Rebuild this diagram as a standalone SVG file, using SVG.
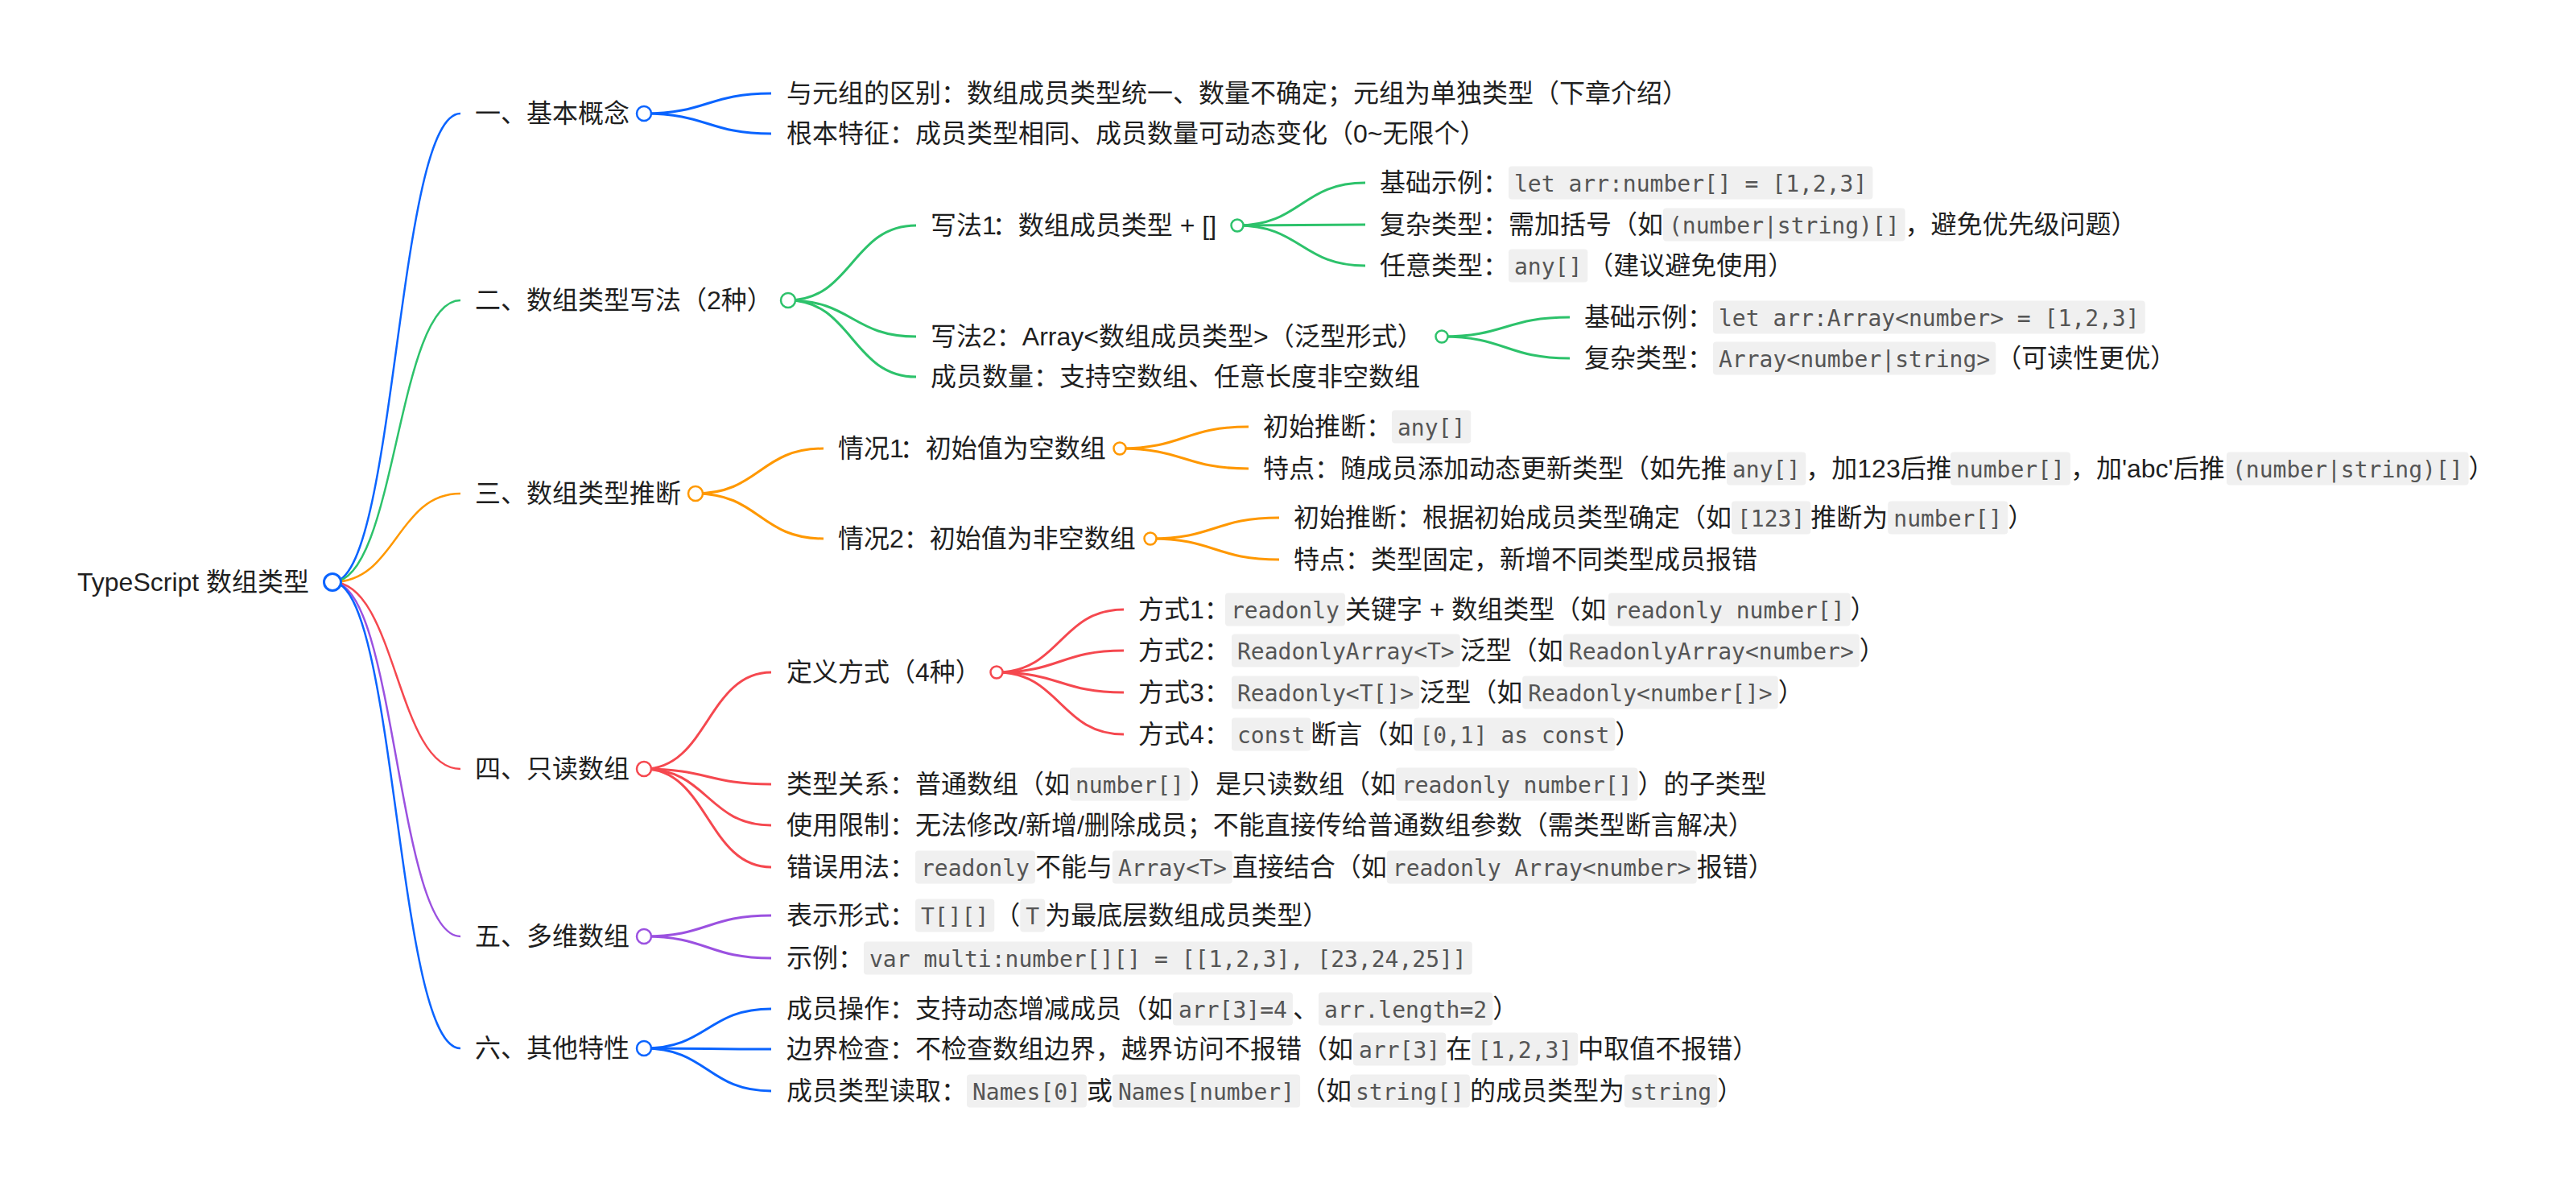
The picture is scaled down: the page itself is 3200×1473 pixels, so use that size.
<svg xmlns="http://www.w3.org/2000/svg" width="3200" height="1473" viewBox="0 0 3200 1473">
<style>
.t{font-family:"Liberation Sans","Noto Sans CJK SC",sans-serif;font-size:32px;fill:#1f1f1f}
.c{font-family:"DejaVu Sans Mono",monospace;font-size:28px;fill:#555}
.cb{fill:#f0f0f0}
.lk{fill:none;stroke-width:3}
.lr{stroke-width:2.5}
.b{stroke:#0a64ff}
.g{stroke:#2dc26b}
.o{stroke:#ff9800}
.r{stroke:#f5484f}
.p{stroke:#9b51e0}
.nd{fill:#fff;stroke-width:2.5}
</style>
<rect width="3200" height="1473" fill="#fff"/>
<g id="connectors">
<path class="lk lr b" d="M413,723C492.5,723 492.5,141 572,141"/>
<path class="lk lr g" d="M413,723C492.5,723 492.5,373 572,373"/>
<path class="lk lr o" d="M413,723C492.5,723 492.5,613 572,613"/>
<path class="lk lr r" d="M413,723C492.5,723 492.5,955 572,955"/>
<path class="lk lr p" d="M413,723C492.5,723 492.5,1163 572,1163"/>
<path class="lk lr b" d="M413,723C492.5,723 492.5,1302 572,1302"/>
<path class="lk b" d="M800,141C879,141 879,116 958,116"/>
<path class="lk b" d="M800,141C879,141 879,166 958,166"/>
<path class="lk g" d="M979,373C1058.5,373 1058.5,280 1138,280"/>
<path class="lk g" d="M979,373C1058.5,373 1058.5,418 1138,418"/>
<path class="lk g" d="M979,373C1058.5,373 1058.5,468 1138,468"/>
<path class="lk o" d="M864,613C943.5,613 943.5,557 1023,557"/>
<path class="lk o" d="M864,613C943.5,613 943.5,669 1023,669"/>
<path class="lk r" d="M800,955C879,955 879,835 958,835"/>
<path class="lk r" d="M800,955C879,955 879,974 958,974"/>
<path class="lk r" d="M800,955C879,955 879,1025 958,1025"/>
<path class="lk r" d="M800,955C879,955 879,1077 958,1077"/>
<path class="lk p" d="M800,1163C879,1163 879,1137 958,1137"/>
<path class="lk p" d="M800,1163C879,1163 879,1190 958,1190"/>
<path class="lk b" d="M800,1302C879,1302 879,1253 958,1253"/>
<path class="lk b" d="M800,1302C879,1302 879,1303 958,1303"/>
<path class="lk b" d="M800,1302C879,1302 879,1355 958,1355"/>
<path class="lk g" d="M1537,280C1616.5,280 1616.5,227 1696,227"/>
<path class="lk g" d="M1537,280C1616.5,280 1616.5,279 1696,279"/>
<path class="lk g" d="M1537,280C1616.5,280 1616.5,330 1696,330"/>
<path class="lk g" d="M1791,418C1870.5,418 1870.5,394 1950,394"/>
<path class="lk g" d="M1791,418C1870.5,418 1870.5,445 1950,445"/>
<path class="lk o" d="M1391,557C1471,557 1471,530 1551,530"/>
<path class="lk o" d="M1391,557C1471,557 1471,582 1551,582"/>
<path class="lk o" d="M1429,669C1509,669 1509,643 1589,643"/>
<path class="lk o" d="M1429,669C1509,669 1509,695 1589,695"/>
<path class="lk r" d="M1238,835C1317,835 1317,757 1396,757"/>
<path class="lk r" d="M1238,835C1317,835 1317,808 1396,808"/>
<path class="lk r" d="M1238,835C1317,835 1317,860 1396,860"/>
<path class="lk r" d="M1238,835C1317,835 1317,912 1396,912"/>
</g>

<g id="root"><text class="t" x="96" y="734">TypeScript 数组类型</text><circle class="nd b" cx="413" cy="723" r="10.5" style="stroke-width:3"/></g>

<g id="n1"><text class="t" x="590" y="152">一、基本概念</text><circle class="nd b" cx="800" cy="141" r="9"/></g>
<g id="n1-1"><text class="t" x="977" y="127">与元组的区别：数组成员类型统一、数量不确定；元组为单独类型（下章介绍）</text></g>
<g id="n1-2"><text class="t" x="977" y="177">根本特征：成员类型相同、成员数量可动态变化（0~无限个）</text></g>

<g id="n2"><text class="t" x="590" y="384">二、数组类型写法（2种）</text><circle class="nd g" cx="979" cy="373" r="9"/></g>
<g id="n2-1"><text class="t" x="1156" y="291">写法1<tspan dx="-5">：数组成员类型 + []</tspan></text><circle class="nd g" cx="1537" cy="280" r="7.5"/></g>
<g id="n2-1-1"><text class="t" x="1714" y="238">基础示例：</text><rect class="cb" x="1874" y="206.5" width="452.4" height="41" rx="4"/><text class="c" x="1881" y="238">let arr:number[] = [1,2,3]</text></g>
<g id="n2-1-2"><text class="t" x="1714" y="290">复杂类型：需加括号（如</text><rect class="cb" x="2066" y="258.5" width="300.6" height="41" rx="4"/><text class="c" x="2073" y="290">(number|string)[]</text><text class="t" x="2366.6" y="290">，避免优先级问题）</text></g>
<g id="n2-1-3"><text class="t" x="1714" y="341">任意类型：</text><rect class="cb" x="1874" y="309.5" width="98.3" height="41" rx="4"/><text class="c" x="1881" y="341">any[]</text><text class="t" x="1972.3" y="341">（建议避免使用）</text></g>
<g id="n2-2"><text class="t" x="1156" y="429">写法2：Array&lt;数组成员类型&gt;（泛型形式）</text><circle class="nd g" cx="1791" cy="418" r="7.5"/></g>
<g id="n2-2-1"><text class="t" x="1968" y="405">基础示例：</text><rect class="cb" x="2128" y="373.5" width="536.7" height="41" rx="4"/><text class="c" x="2135" y="405">let arr:Array&lt;number&gt; = [1,2,3]</text></g>
<g id="n2-2-2"><text class="t" x="1968" y="456">复杂类型：</text><rect class="cb" x="2128" y="424.5" width="351.2" height="41" rx="4"/><text class="c" x="2135" y="456">Array&lt;number|string&gt;</text><text class="t" x="2479.2" y="456">（可读性更优）</text></g>
<g id="n2-3"><text class="t" x="1156" y="479">成员数量：支持空数组、任意长度非空数组</text></g>

<g id="n3"><text class="t" x="590" y="624">三、数组类型推断</text><circle class="nd o" cx="864" cy="613" r="9"/></g>
<g id="n3-1"><text class="t" x="1041" y="568">情况1<tspan dx="-5">：初始值为空数组</tspan></text><circle class="nd o" cx="1391" cy="557" r="7.5"/></g>
<g id="n3-1-1"><text class="t" x="1569" y="541">初始推断：</text><rect class="cb" x="1729" y="509.5" width="98.3" height="41" rx="4"/><text class="c" x="1736" y="541">any[]</text></g>
<g id="n3-1-2"><text class="t" x="1569" y="593">特点：随成员添加动态更新类型（如先推</text><rect class="cb" x="2145" y="561.5" width="98.3" height="41" rx="4"/><text class="c" x="2152" y="593">any[]</text><text class="t" x="2243.3" y="593">，加123后推</text><rect class="cb" x="2423" y="561.5" width="148.9" height="41" rx="4"/><text class="c" x="2430" y="593">number[]</text><text class="t" x="2571.9" y="593">，加'abc'后推</text><rect class="cb" x="2766" y="561.5" width="300.6" height="41" rx="4"/><text class="c" x="2773" y="593">(number|string)[]</text><text class="t" x="3066.6" y="593">）</text></g>
<g id="n3-2"><text class="t" x="1041" y="680">情况2：初始值为非空数组</text><circle class="nd o" cx="1429" cy="669" r="7.5"/></g>
<g id="n3-2-1"><text class="t" x="1607" y="654">初始推断：根据初始成员类型确定（如</text><rect class="cb" x="2151" y="622.5" width="98.3" height="41" rx="4"/><text class="c" x="2158" y="654">[123]</text><text class="t" x="2249.3" y="654">推断为</text><rect class="cb" x="2345.3" y="622.5" width="148.9" height="41" rx="4"/><text class="c" x="2352.3" y="654">number[]</text><text class="t" x="2494.2" y="654">）</text></g>
<g id="n3-2-2"><text class="t" x="1607" y="706">特点：类型固定，新增不同类型成员报错</text></g>

<g id="n4"><text class="t" x="590" y="966">四、只读数组</text><circle class="nd r" cx="800" cy="955" r="9"/></g>
<g id="n4-1"><text class="t" x="977" y="846">定义方式（4种）</text><circle class="nd r" cx="1238" cy="835" r="7.5"/></g>
<g id="n4-1-1"><text class="t" x="1414" y="768">方式1：</text><rect class="cb" x="1522" y="736.5" width="148.9" height="41" rx="4"/><text class="c" x="1529" y="768">readonly</text><text class="t" x="1670.9" y="768">关键字 + 数组类型（如</text><rect class="cb" x="1998" y="736.5" width="300.6" height="41" rx="4"/><text class="c" x="2005" y="768">readonly number[]</text><text class="t" x="2298.6" y="768">）</text></g>
<g id="n4-1-2"><text class="t" x="1414" y="819">方式2：</text><rect class="cb" x="1530" y="787.5" width="283.8" height="41" rx="4"/><text class="c" x="1537" y="819">ReadonlyArray&lt;T&gt;</text><text class="t" x="1813.8" y="819">泛型（如</text><rect class="cb" x="1941.8" y="787.5" width="368" height="41" rx="4"/><text class="c" x="1948.8" y="819">ReadonlyArray&lt;number&gt;</text><text class="t" x="2309.8" y="819">）</text></g>
<g id="n4-1-3"><text class="t" x="1414" y="871">方式3：</text><rect class="cb" x="1530" y="839.5" width="233.2" height="41" rx="4"/><text class="c" x="1537" y="871">Readonly&lt;T[]&gt;</text><text class="t" x="1763.2" y="871">泛型（如</text><rect class="cb" x="1891.2" y="839.5" width="317.5" height="41" rx="4"/><text class="c" x="1898.2" y="871">Readonly&lt;number[]&gt;</text><text class="t" x="2208.7" y="871">）</text></g>
<g id="n4-1-4"><text class="t" x="1414" y="923">方式4：</text><rect class="cb" x="1530" y="891.5" width="98.3" height="41" rx="4"/><text class="c" x="1537" y="923">const</text><text class="t" x="1628.3" y="923">断言（如</text><rect class="cb" x="1756.3" y="891.5" width="250" height="41" rx="4"/><text class="c" x="1763.3" y="923">[0,1] as const</text><text class="t" x="2006.3" y="923">）</text></g>
<g id="n4-2"><text class="t" x="977" y="985">类型关系：普通数组（如</text><rect class="cb" x="1329" y="953.5" width="148.9" height="41" rx="4"/><text class="c" x="1336" y="985">number[]</text><text class="t" x="1477.9" y="985">）是只读数组（如</text><rect class="cb" x="1733.9" y="953.5" width="300.6" height="41" rx="4"/><text class="c" x="1740.9" y="985">readonly number[]</text><text class="t" x="2034.5" y="985">）的子类型</text></g>
<g id="n4-3"><text class="t" x="977" y="1036">使用限制：无法修改/新增/删除成员；不能直接传给普通数组参数（需类型断言解决）</text></g>
<g id="n4-4"><text class="t" x="977" y="1088">错误用法：</text><rect class="cb" x="1137" y="1056.5" width="148.9" height="41" rx="4"/><text class="c" x="1144" y="1088">readonly</text><text class="t" x="1285.9" y="1088">不能与</text><rect class="cb" x="1381.9" y="1056.5" width="148.9" height="41" rx="4"/><text class="c" x="1388.9" y="1088">Array&lt;T&gt;</text><text class="t" x="1530.8" y="1088">直接结合（如</text><rect class="cb" x="1722.8" y="1056.5" width="384.9" height="41" rx="4"/><text class="c" x="1729.8" y="1088">readonly Array&lt;number&gt;</text><text class="t" x="2107.7" y="1088">报错）</text></g>

<g id="n5"><text class="t" x="590" y="1174">五、多维数组</text><circle class="nd p" cx="800" cy="1163" r="9"/></g>
<g id="n5-1"><text class="t" x="977" y="1148">表示形式：</text><rect class="cb" x="1137" y="1116.5" width="98.3" height="41" rx="4"/><text class="c" x="1144" y="1148">T[][]</text><text class="t" x="1235.3" y="1148">（</text><rect class="cb" x="1267.3" y="1116.5" width="30.9" height="41" rx="4"/><text class="c" x="1274.3" y="1148">T</text><text class="t" x="1298.2" y="1148">为最底层数组成员类型）</text></g>
<g id="n5-2"><text class="t" x="977" y="1201">示例：</text><rect class="cb" x="1073" y="1169.5" width="755.8" height="41" rx="4"/><text class="c" x="1080" y="1201">var multi:number[][] = [[1,2,3], [23,24,25]]</text></g>

<g id="n6"><text class="t" x="590" y="1313">六、其他特性</text><circle class="nd b" cx="800" cy="1302" r="9"/></g>
<g id="n6-1"><text class="t" x="977" y="1264">成员操作：支持动态增减成员（如</text><rect class="cb" x="1457" y="1232.5" width="148.9" height="41" rx="4"/><text class="c" x="1464" y="1264">arr[3]=4</text><text class="t" x="1605.9" y="1264">、</text><rect class="cb" x="1637.9" y="1232.5" width="216.3" height="41" rx="4"/><text class="c" x="1644.9" y="1264">arr.length=2</text><text class="t" x="1854.2" y="1264">）</text></g>
<g id="n6-2"><text class="t" x="977" y="1314">边界检查：不检查数组边界，越界访问不报错（如</text><rect class="cb" x="1681" y="1282.5" width="115.2" height="41" rx="4"/><text class="c" x="1688" y="1314">arr[3]</text><text class="t" x="1796.2" y="1314">在</text><rect class="cb" x="1828.2" y="1282.5" width="132" height="41" rx="4"/><text class="c" x="1835.2" y="1314">[1,2,3]</text><text class="t" x="1960.2" y="1314">中取值不报错）</text></g>
<g id="n6-3"><text class="t" x="977" y="1366">成员类型读取：</text><rect class="cb" x="1201" y="1334.5" width="148.9" height="41" rx="4"/><text class="c" x="1208" y="1366">Names[0]</text><text class="t" x="1349.9" y="1366">或</text><rect class="cb" x="1381.9" y="1334.5" width="233.2" height="41" rx="4"/><text class="c" x="1388.9" y="1366">Names[number]</text><text class="t" x="1615.1" y="1366">（如</text><rect class="cb" x="1677" y="1334.5" width="148.9" height="41" rx="4"/><text class="c" x="1684" y="1366">string[]</text><text class="t" x="1825.9" y="1366">的成员类型为</text><rect class="cb" x="2018" y="1334.5" width="115.2" height="41" rx="4"/><text class="c" x="2025" y="1366">string</text><text class="t" x="2133.2" y="1366">）</text></g>
</svg>
